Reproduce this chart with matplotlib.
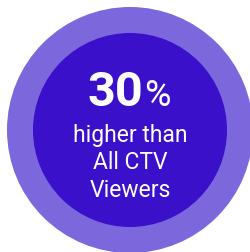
import matplotlib.pyplot as plt
from matplotlib.patches import Circle

# data
value = 30
value_unit = "%"
caption_lines = ["higher than", "All CTV", "Viewers"]

outer_color = "#7C68DC"
inner_color = "#3A10CB"

fig = plt.figure(figsize=(2.51, 2.52), dpi=100)
ax = fig.add_axes([0, 0, 1, 1])
ax.set_xlim(0, 251)
ax.set_ylim(252, 0)
ax.set_aspect("equal")
ax.axis("off")

cx, cy = 130, 130
ax.add_patch(Circle((cx, cy), 123, color=outer_color, lw=0))
ax.add_patch(Circle((cx, cy), 97, color=inner_color, lw=0))

font = "Roboto"
ax.text(143, 106, str(value), color="white", fontsize=35, fontweight="bold",
        family=font, ha="right", va="baseline")
ax.text(144, 106, value_unit, color="white", fontsize=26,
        family=font, ha="left", va="baseline")

for i, line in enumerate(caption_lines):
    ax.text(cx, 142 + i * 27.5, line, color="white", fontsize=16.5,
            family=font, ha="center", va="baseline")

plt.savefig("out.png", dpi=100)
plt.close()
